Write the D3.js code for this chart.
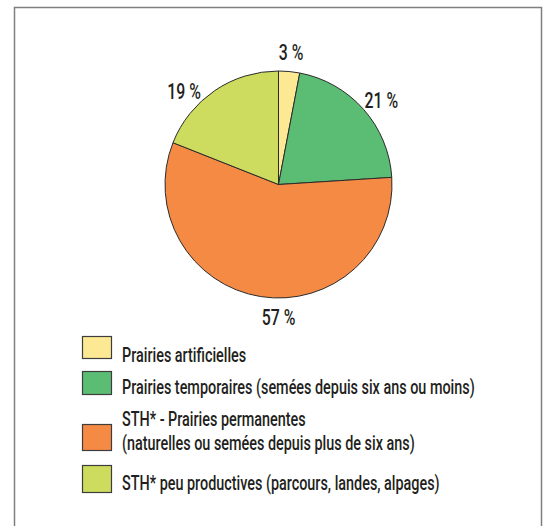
<!doctype html>
<html lang="fr">
<head>
<meta charset="utf-8">
<title>Prairies</title>
<script src="https://cdn.jsdelivr.net/npm/d3@7"></script>
<style>
  body { margin: 0; background: #fff; }
  svg text { font-family: Roboto, "DejaVu Sans Condensed", sans-serif; font-weight: 500; fill: #231f20; }
</style>
</head>
<body>
<svg id="chart" width="549" height="526"></svg>
<script>
// data
var categories = [
  "Prairies artificielles",
  "Prairies temporaires (semées depuis six ans ou moins)",
  "STH* - Prairies permanentes\n(naturelles ou semées depuis plus de six ans)",
  "STH* peu productives (parcours, landes, alpages)"
];
var shares = [3, 21, 57, 19];
var valueLabels = ["3 %", "21 %", "57 %", "19 %"];
var colours = ["#fde993", "#5bbd74", "#f58a45", "#cddc5e"];

// small angle nudges (degrees) so labels sit like the original
var labelNudge = [0, 2, -9, -11];

var svg = d3.select("#chart");
var cx = 278.5, cy = 184.5, radius = 113.5;
var squeeze = 0.72; // condensed look

// frame
svg.append("rect")
  .attr("x", 14.5).attr("y", 7.5)
  .attr("width", 527).attr("height", 540)
  .attr("fill", "none")
  .attr("stroke", "#7f7f7f")
  .attr("stroke-width", 1.5);

var pie = d3.pie().sort(null).value(function(d) { return d; });
var arcs = pie(shares);
var arc = d3.arc().innerRadius(0).outerRadius(radius);

var g = svg.append("g").attr("transform", "translate(" + cx + "," + cy + ")");

g.selectAll("path.slice")
  .data(arcs)
  .enter().append("path")
  .attr("class", "slice")
  .attr("d", arc)
  .attr("fill", function(d, i) { return colours[i]; })
  .attr("stroke", "#2b2b2b")
  .attr("stroke-width", 1)
  .attr("stroke-linejoin", "round");

function condensed(sel, x, y) {
  return sel.attr("transform", "translate(" + x + "," + y + ") scale(" + squeeze + ",1)");
}

var labelR = 133;
arcs.forEach(function(d, i) {
  var a = (d.startAngle + d.endAngle) / 2 + labelNudge[i] * Math.PI / 180;
  var x = labelR * Math.sin(a);
  var y = -labelR * Math.cos(a);
  condensed(g.append("text"), x, y)
    .attr("text-anchor", "middle")
    .attr("dy", "0.36em")
    .attr("font-size", 22)
    .text(valueLabels[i]);
});

// legend
var boxX = 82, boxW = 29;
var boxTop = [336, 371, 424, 465];
var boxH = [22, 23, 26, 27];
var textX = 122;
var textBase = [362, 394, 426, 490];
var lineGap = 23.6;

var legend = svg.append("g");
categories.forEach(function(c, i) {
  legend.append("rect")
    .attr("x", boxX + 0.5).attr("y", boxTop[i] + 0.5)
    .attr("width", boxW).attr("height", boxH[i])
    .attr("fill", colours[i])
    .attr("stroke", "#3d3d3d")
    .attr("stroke-width", 1.2);
  c.split("\n").forEach(function(line, k) {
    condensed(legend.append("text"), textX, textBase[i] + k * lineGap)
      .attr("font-size", 20)
      .text(line);
  });
});
</script>
</body>
</html>
